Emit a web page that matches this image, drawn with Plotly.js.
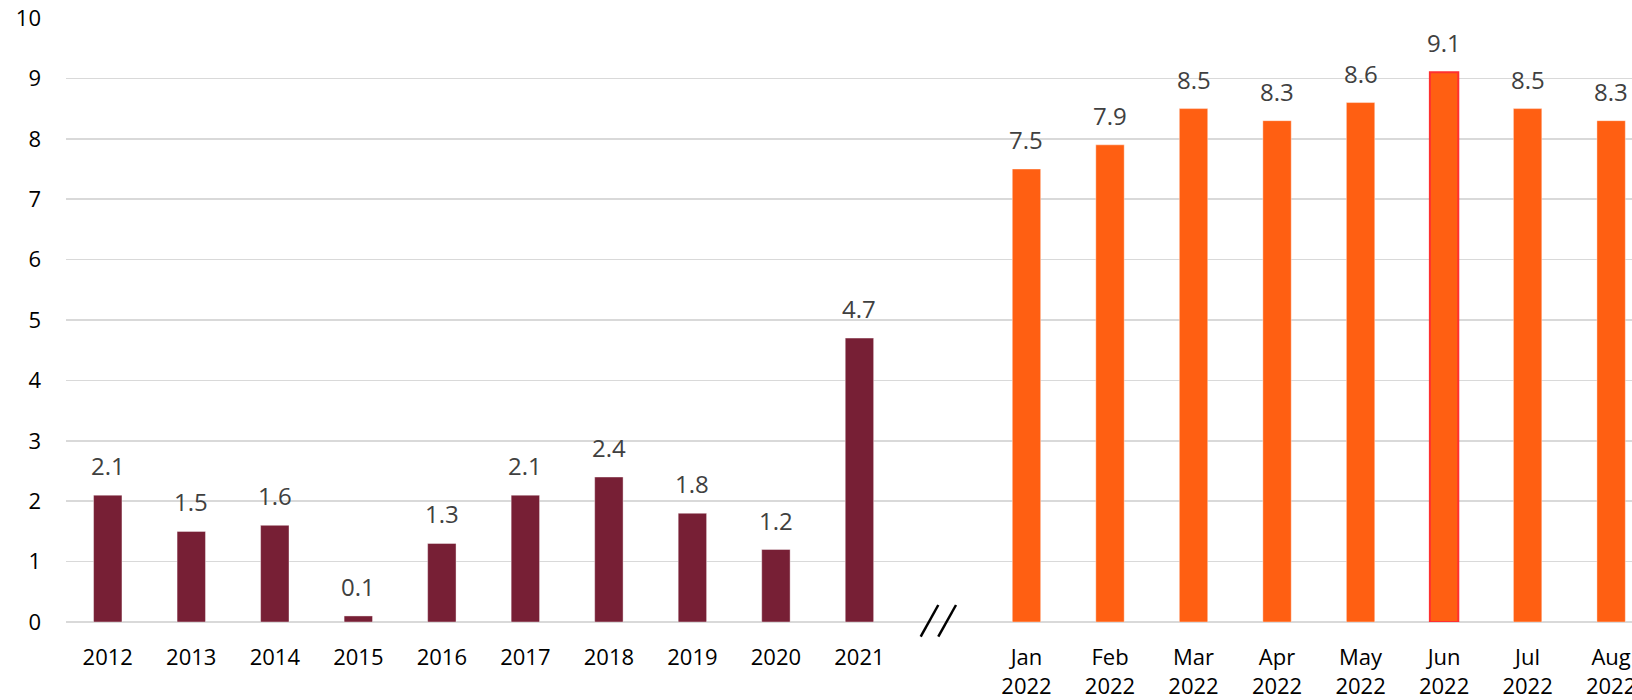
<!DOCTYPE html>
<html>
<head>
<meta charset="utf-8">
<script src="https://cdn.plot.ly/plotly-3.0.1.min.js"></script>
<style>html,body{margin:0;padding:0;background:#fff;}#chart{width:1632px;height:700px;}</style>
</head>
<body>
<div id="chart"></div>
<script>
const yearLabels = ["2012","2013","2014","2015","2016","2017","2018","2019","2020","2021"];
const yearValues = [2.1, 1.5, 1.6, 0.1, 1.3, 2.1, 2.4, 1.8, 1.2, 4.7];
const monthLabels = ["Jan<br>2022","Feb<br>2022","Mar<br>2022","Apr<br>2022","May<br>2022","Jun<br>2022","Jul<br>2022","Aug<br>2022"];
const monthValues = [7.5, 7.9, 8.5, 8.3, 8.6, 9.1, 8.5, 8.3];
const highlightMonth = "Jun<br>2022";

const yearX = yearLabels.map((_, i) => i);
const gapIndex = yearLabels.length;
const monthX = monthLabels.map((_, i) => gapIndex + 1 + i);

const maroon = "#771F35";
const orange = "#FF5F12";

const traces = [
  {
    type: "bar", x: yearX, y: yearValues, width: 0.34,
    marker: {color: maroon, line: {color: "rgba(255,255,255,0.4)", width: 1}},
    hoverinfo: "y", showlegend: false
  },
  {
    type: "bar", x: monthX, y: monthValues, width: 0.34,
    marker: {
      color: orange,
      line: {
        color: monthLabels.map(m => m === highlightMonth ? "#FF3030" : "rgba(255,255,255,0.4)"),
        width: monthLabels.map(m => m === highlightMonth ? 2 : 1)
      }
    },
    hoverinfo: "y", showlegend: false
  }
];

const allX = yearX.concat(monthX);
const allV = yearValues.concat(monthValues);
const annotations = allX.map((x, i) => ({
  x: x, y: allV[i], xref: "x", yref: "y",
  text: allV[i].toFixed(1), showarrow: false,
  yanchor: "bottom", yshift: 11,
  font: {family: "Open Sans, sans-serif", size: 24, color: "#404040"}
}));

const L = 66, W = 1632 - 66, T = 18, H = 604;
const px = v => (v - L) / W;
const py = v => (T + H - v) / H;
const shapes = [
  {type: "line", xref: "paper", yref: "paper", x0: px(920.7), y0: py(636.7), x1: px(938.3), y1: py(605), line: {color: "#000", width: 2.5}},
  {type: "line", xref: "paper", yref: "paper", x0: px(938.3), y0: py(636.7), x1: px(956), y1: py(605), line: {color: "#000", width: 2.5}}
];

const layout = {
  width: 1632, height: 700,
  margin: {l: 66, r: 0, t: 18, b: 78, pad: 0},
  paper_bgcolor: "#fff", plot_bgcolor: "#fff",
  font: {family: "Open Sans, sans-serif", size: 22, color: "#000"},
  xaxis: {
    range: [-0.5, 18.25],
    tickvals: allX,
    ticktext: yearLabels.concat(monthLabels),
    showgrid: false, zeroline: false, showline: false,
    ticks: "", ticklabelstandoff: 20, ticklabeloverflow: "allow",
    tickfont: {family: "Open Sans, sans-serif", size: 22, color: "#000"},
    fixedrange: true
  },
  yaxis: {
    range: [0, 10], dtick: 1, tick0: 0,
    showgrid: true, gridcolor: "#D9D9D9", gridwidth: 1.5,
    zeroline: true, zerolinecolor: "#D9D9D9", zerolinewidth: 1.5,
    showline: false, ticks: "", ticklabelstandoff: 24,
    tickfont: {family: "Open Sans, sans-serif", size: 22, color: "#000"},
    fixedrange: true
  },
  bargap: 0,
  annotations: annotations,
  shapes: shapes
};

Plotly.newPlot("chart", traces, layout, {displayModeBar: false, staticPlot: true});
</script>
</body>
</html>
